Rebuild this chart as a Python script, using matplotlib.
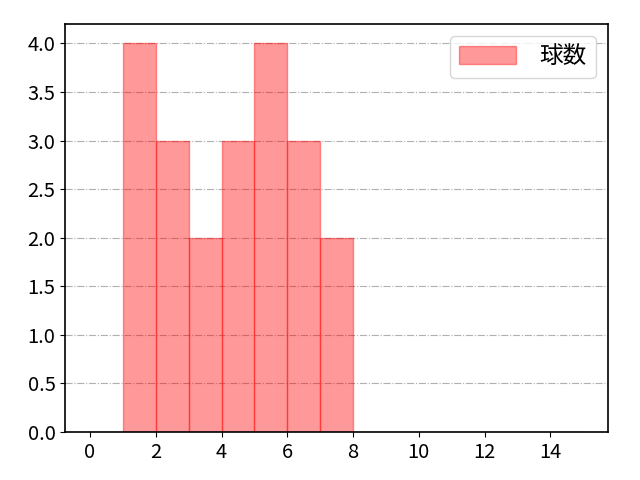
import matplotlib
matplotlib.use("Agg")
import matplotlib.pyplot as plt

plt.rcParams['font.family'] = ['Noto Sans CJK JP', 'DejaVu Sans']

bin_edges = list(range(0, 16))
counts = [0, 4, 3, 2, 3, 4, 3, 2, 0, 0, 0, 0, 0, 0, 0]
label = '球数'

fig, ax = plt.subplots(figsize=(6.4, 4.8), dpi=100)
fig.subplots_adjust(left=0.102, right=0.95, top=0.95, bottom=0.1)

ax.bar(bin_edges[:-1], counts, width=1, align='edge', color='red', alpha=0.4,
       edgecolor='red', linewidth=1, label=label)
ax.set_xticks(range(0, 15, 2))
ax.grid(axis='y', linestyle='-.', color='#b0b0b0', linewidth=0.8)
ax.set_axisbelow(True)
ax.tick_params(labelsize=14.5)
ax.legend(loc='upper right', fontsize=17, handlelength=2.4, handleheight=0.8,
          handletextpad=1.0, borderpad=0.4)
for s in ax.spines.values():
    s.set_linewidth(1.2)

fig.savefig('out.png', dpi=100)
